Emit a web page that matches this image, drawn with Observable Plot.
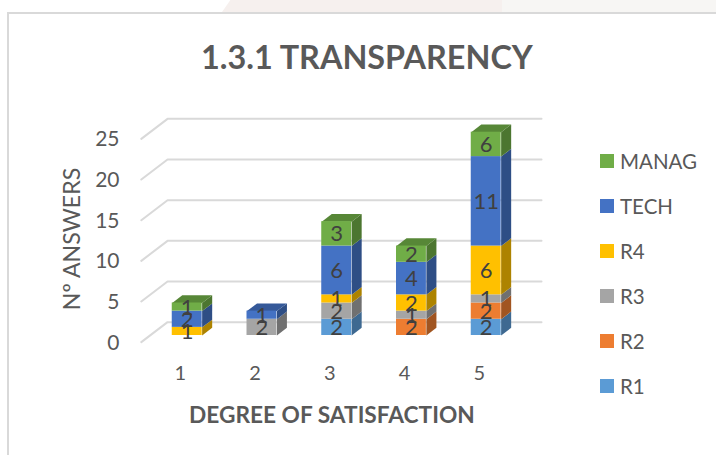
<!DOCTYPE html>
<html>
<head>
<meta charset="utf-8">
<script src="https://cdn.jsdelivr.net/npm/d3@7"></script>
<script src="https://cdn.jsdelivr.net/npm/@observablehq/plot@0.6"></script>
<style>
  html, body { margin: 0; padding: 0; background: #fff; overflow: hidden; }
  #page { position: relative; width: 716px; height: 455px; overflow: hidden; font-family: Lato, "Open Sans", sans-serif; color: #595959; }
  #page svg { position: absolute; left: 0; top: 0; font-family: Lato, "Open Sans", sans-serif; }
  .strip { position: absolute; top: 0; height: 12px; }
  #s1 { left: 222px; width: 280px; background: #f6f0ee; clip-path: polygon(3% 0, 100% 0, 100% 100%, 0 100%); }
  #s2 { left: 502px; width: 214px; background: #f7f6f4; }
  #frame { position: absolute; left: 7px; top: 12px; width: 720px; height: 460px; border: 2px solid #d9d9d9; box-sizing: border-box; }
  .t { position: absolute; white-space: nowrap; }
  #title { left: 201px; top: 37px; font-size: 32.4px; font-weight: 700; line-height: 40px; }
  #xtitle { left: 189px; top: 402px; font-size: 22.7px; font-weight: 700; line-height: 26px; }
  #ytitle { left: 71px; top: 239px; font-size: 23.2px; line-height: 26px; transform: translate(-50%, -50%) rotate(-90deg); }
  .sw { position: absolute; left: 600px; width: 14px; height: 14px; }
  .lg { position: absolute; left: 620px; font-size: 20.5px; line-height: 26px; white-space: nowrap; }
</style>
</head>
<body>
<div id="page">
  <div class="strip" id="s1"></div>
  <div class="strip" id="s2"></div>
  <div id="frame"></div>
  <div id="chart"></div>
  <div class="t" id="title">1.3.1 TRANSPARENCY</div>
  <div class="t" id="xtitle">DEGREE OF SATISFACTION</div>
  <div class="t" id="ytitle">Nº ANSWERS</div>
  <div id="legend"></div>
</div>
<script>
const categories = [1, 2, 3, 4, 5];
const seriesNames = ["R1", "R2", "R3", "R4", "TECH", "MANAG"];
const R1    = [0, 0, 2, 0, 2];
const R2    = [0, 0, 0, 2, 2];
const R3    = [0, 2, 2, 1, 1];
const R4    = [1, 0, 1, 2, 6];
const TECH  = [2, 1, 6, 4, 11];
const MANAG = [1, 0, 3, 2, 6];
const seriesValues = [R1, R2, R3, R4, TECH, MANAG];
const colors = ["#5b9bd5", "#ed7d31", "#a5a5a5", "#ffc000", "#4472c4", "#70ad47"];
const yTicks = [0, 5, 10, 15, 20, 25];
const yMax = 25; // the axis stops at 25, so the top segment of bar 5 is cut off

// 3D projection, expressed in scale units
const halfWidth = 0.2, depthX = 0.134, depthY = 0.95;
const gridFront = {dx: 0.386 - 1, dy: -0.82}, gridBack = {dx: 0.737 - 1, dy: 1.64};
const gridRight = 5.74;

function shade(c, k) {
  const r = d3.rgb(c);
  return d3.rgb(r.r * k, r.g * k, r.b * k).formatHex();
}

const fronts = [], sides = [], tops = [], labels = [];
categories.forEach((cat, i) => {
  let base = 0, last = null;
  seriesValues.forEach((vals, s) => {
    const v = vals[i];
    if (!v) return;
    const y1 = Math.min(base, yMax), y2 = Math.min(base + v, yMax);
    const xl = cat - halfWidth, xr = cat + halfWidth;
    const id = i * 10 + s;
    [[xr, y1], [xr + depthX, y1 + depthY], [xr + depthX, y2 + depthY], [xr, y2]]
      .forEach(([x, y]) => sides.push({id, x, y, c: shade(colors[s], 0.68)}));
    fronts.push({x1: xl, x2: xr, y1, y2, c: colors[s]});
    labels.push({x: cat, y: (y1 + y2) / 2, v});
    last = {id, xl, xr, y2, s};
    base += v;
  });
  if (last) {
    [[last.xl, last.y2], [last.xr, last.y2], [last.xr + depthX, last.y2 + depthY], [last.xl + depthX, last.y2 + depthY]]
      .forEach(([x, y]) => tops.push({id: last.id, x, y, c: shade(colors[last.s], 0.78)}));
  }
});

const grid = [];
yTicks.forEach(t => {
  grid.push({id: t, x: 1 + gridFront.dx, y: t + gridFront.dy});
  grid.push({id: t, x: 1 + gridBack.dx, y: t + gridBack.dy});
  grid.push({id: t, x: gridRight, y: t + gridBack.dy});
});

const plot = Plot.plot({
  width: 716, height: 455,
  marginLeft: 127, marginBottom: 110, marginTop: 0, marginRight: 0,
  x: {domain: [1, 5], range: [186.7, 485.7]},
  y: {domain: [0, yMax], range: [335, 131.7]},
  style: {background: "transparent", overflow: "visible"},
  marks: [
    Plot.line(grid, {x: "x", y: "y", z: "id", stroke: "#d9d9d9", strokeWidth: 2, curve: "linear"}),
    Plot.line(sides, {x: "x", y: "y", z: "id", fill: d => d.c, stroke: null, curve: "linear"}),
    Plot.line(tops, {x: "x", y: "y", z: "id", fill: d => d.c, stroke: null, curve: "linear"}),
    Plot.rect(fronts, {x1: "x1", x2: "x2", y1: "y1", y2: "y2", fill: d => d.c}),
    Plot.text(labels, {x: "x", y: "y", text: "v", fontSize: 22, fill: "#404040", dy: 0.5}),
    Plot.axisY({ticks: yTicks, tickSize: 0, tickPadding: 8, fontSize: 21, color: "#595959", dy: 7.5, label: null}),
    Plot.axisX({ticks: categories, tickFormat: d => String(d), tickSize: 0, tickPadding: 20, fontSize: 20, color: "#595959", dx: -7, label: null})
  ]
});
document.getElementById("chart").append(plot);

const legendEl = document.getElementById("legend");
const legendTop = 160.7, legendStep = 45;
[...seriesNames].reverse().forEach((name, k) => {
  const color = colors[seriesNames.indexOf(name)];
  const cy = legendTop + k * legendStep;
  const sw = document.createElement("div");
  sw.className = "sw"; sw.style.background = color; sw.style.top = (cy - 7) + "px";
  const lb = document.createElement("div");
  lb.className = "lg"; lb.textContent = name; lb.style.top = (cy - 13) + "px";
  legendEl.append(sw, lb);
});
</script>
</body>
</html>
